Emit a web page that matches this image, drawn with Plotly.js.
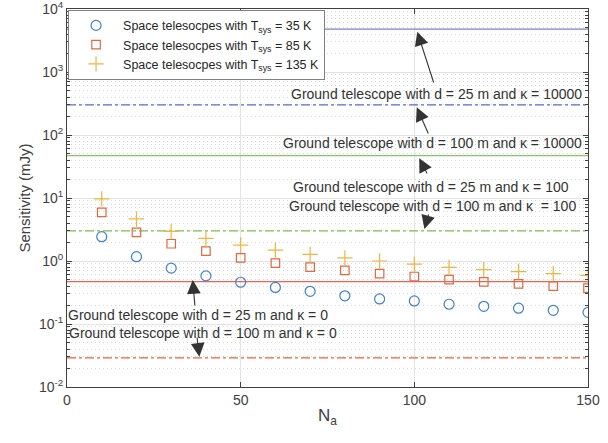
<!DOCTYPE html>
<html>
<head>
<meta charset="utf-8">
<script src="https://cdn.plot.ly/plotly-3.0.1.min.js"></script>
<style>html,body{margin:0;padding:0;background:#fff;}#chart{width:608px;height:443px;}</style>
</head>
<body>
<div id="chart"></div>
<script>
// ---- data ----
const Na = [10, 20, 30, 40, 50, 60, 70, 80, 90, 100, 110, 120, 130, 140, 150];
const sens35  = [2.43, 1.17, 0.77, 0.58, 0.46, 0.38, 0.33, 0.28, 0.25, 0.232, 0.206, 0.191, 0.178, 0.165, 0.153];
const sens85  = [5.9, 2.84, 1.88, 1.43, 1.12, 0.925, 0.80, 0.71, 0.63, 0.567, 0.507, 0.466, 0.433, 0.40, 0.37];
const sens135 = [9.7, 4.65, 2.95, 2.28, 1.79, 1.49, 1.27, 1.12, 1.0, 0.89, 0.79, 0.73, 0.68, 0.63, 0.59];
const seriesNames = [
  'Space telesocpes with T<sub>sys</sub> = 35 K',
  'Space telesocpes with T<sub>sys</sub> = 85 K',
  'Space telesocpes with T<sub>sys</sub> = 135 K'
];
const groundValues = [4800, 300, 47, 3, 0.47, 0.029];
const groundLabels = [
  'Ground telescope with d = 25 m and \u03ba = 10000',
  'Ground telescope with d = 100 m and \u03ba = 10000',
  'Ground telescope with d = 25 m and \u03ba = 100',
  'Ground telescope with d = 100 m and \u03ba  = 100',
  'Ground telescope with d = 25 m and \u03ba = 0',
  'Ground telescope with d = 100 m and \u03ba = 0'
];
const xRange = [0, 150];
const xTicks = [0, 50, 100, 150];
const yExponents = [-2, -1, 0, 1, 2, 3, 4];

// ---- styles ----
const lineColors = ['#7d80c6', '#5b6bd2', '#86c46a', '#7cc04e', '#f2614e', '#f0603e'];
const lineDash = ['solid', 'dashdot', 'solid', 'dashdot', 'solid', 'dashdot'];
// label centre (paper px) and arrow (head, tail) positions in [x, log10 y]
const labelPos = [[436, 94], [432, 143], [431, 187], [432, 206], [198, 315], [203, 333]];
const arrows = [
  [[100.85, 3.64], [105.7, 2.81]],
  [[100.7, 2.44], [104.2, 2.0]],
  [[101.4, 1.63], [103.9, 1.365]],
  [[102.9, 0.508], [104.2, 0.762]],
  [[36.2, -0.302], [36.85, -0.73]],
  [[38.1, -1.52], [37.4, -1.19]]
];

const traces = [];
groundValues.forEach((v, i) => {
  traces.push({
    x: xRange, y: [v, v], mode: 'lines', showlegend: false, hoverinfo: 'skip',
    line: {color: lineColors[i], width: 1.3, dash: lineDash[i]}
  });
});
traces.push({x: Na, y: sens35, mode: 'markers', name: seriesNames[0],
  marker: {symbol: 'circle-open', size: 10, color: '#3f7fd4', line: {width: 1.2}}});
traces.push({x: Na, y: sens85, mode: 'markers', name: seriesNames[1],
  marker: {symbol: 'square-open', size: 8.5, color: '#e2683f', line: {width: 1.2}}});
traces.push({x: Na, y: sens135, mode: 'markers', name: seriesNames[2],
  marker: {symbol: 'cross-thin-open', size: 11, color: '#f0b440', line: {width: 1.2, color: '#f0b440'}}});

const W = 608, H = 443, mL = 67, mR = 20, mT = 9, mB = 56;
const pw = W - mL - mR, ph = H - mT - mB;
const annotations = [];
groundLabels.forEach((t, i) => {
  annotations.push({
    text: t, showarrow: false, xref: 'paper', yref: 'paper',
    x: (labelPos[i][0] - mL) / pw, y: 1 - (labelPos[i][1] - mT) / ph,
    xanchor: 'center', yanchor: 'middle',
    font: {family: 'Liberation Sans, Arial, sans-serif', size: 14, color: '#333333'}
  });
  const a = arrows[i];
  annotations.push({
    text: '', showarrow: true, x: a[0][0], y: a[0][1], axref: 'x', ayref: 'y',
    ax: a[1][0], ay: a[1][1], arrowhead: 2, arrowsize: 2.5, arrowwidth: 1.1,
    arrowcolor: '#333333', standoff: 0, startstandoff: 0
  });
});

const layout = {
  width: W, height: H,
  margin: {l: mL, r: mR, t: mT, b: mB},
  paper_bgcolor: '#ffffff', plot_bgcolor: '#ffffff',
  font: {family: 'Liberation Sans, Arial, sans-serif', color: '#404040', size: 14},
  showlegend: true,
  legend: {
    x: 0.002, y: 0.998, xanchor: 'left', yanchor: 'top',
    bgcolor: '#ffffff', bordercolor: '#808080', borderwidth: 1,
    font: {size: 12.5, color: '#262626'}, itemwidth: 44, tracegroupgap: 0
  },
  xaxis: {
    range: xRange, tickvals: xTicks, ticks: 'inside', ticklen: 5, tickcolor: '#404040',
    showline: true, linecolor: '#404040', linewidth: 1, mirror: 'ticks',
    showgrid: true, gridcolor: '#e3e3e3', zeroline: false,
    tickfont: {size: 14, color: '#404040'}, ticklabeloverflow: 'allow',
    title: {text: 'N<sub>a</sub>', font: {size: 17, color: '#404040'}, standoff: 2}
  },
  yaxis: {
    type: 'log', range: [-2, 4],
    tickvals: yExponents.map(e => Math.pow(10, e)),
    ticktext: yExponents.map(e => '10<sup>' + e + '</sup>'),
    ticks: 'inside', ticklen: 5, tickcolor: '#404040',
    showline: true, linecolor: '#404040', linewidth: 1, mirror: 'ticks',
    showgrid: true, gridcolor: '#e3e3e3', zeroline: false,
    tickfont: {size: 14, color: '#404040'}, ticklabeloverflow: 'allow',
    minor: {dtick: 'D1', ticks: 'inside', ticklen: 3, tickcolor: '#404040', showgrid: true, gridcolor: '#dadada', griddash: '1px,3px'},
    title: {text: 'Sensitivity (mJy)', font: {size: 15, color: '#404040'}, standoff: 4}
  },
  annotations: annotations
};

Plotly.newPlot('chart', traces, layout, {staticPlot: true, displayModeBar: false});
</script>
</body>
</html>
